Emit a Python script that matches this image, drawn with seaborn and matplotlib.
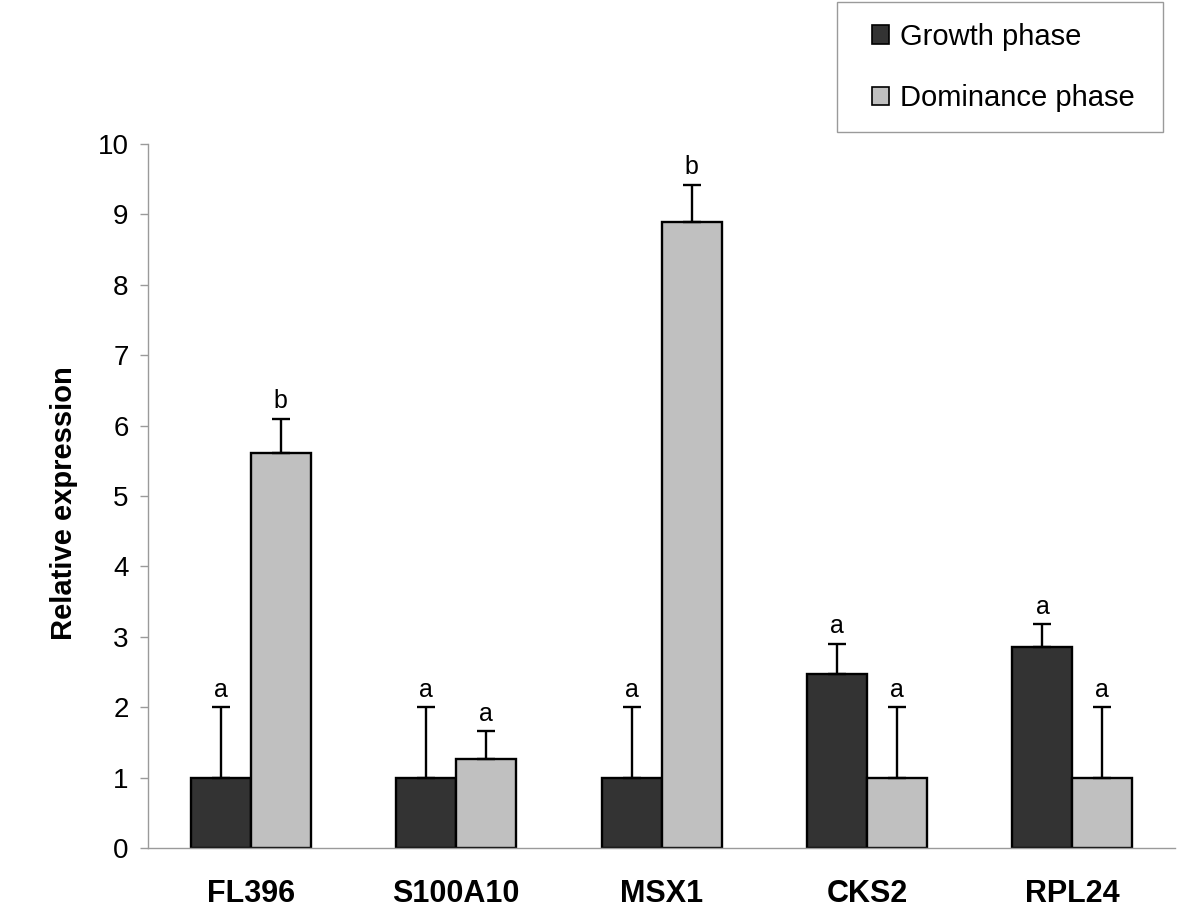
import numpy as np
import pandas as pd
import matplotlib
matplotlib.use('Agg')
import matplotlib.pyplot as plt
from matplotlib.patches import Patch, Rectangle
import seaborn as sns

# data
genes = ['FL396', 'S100A10', 'MSX1', 'CKS2', 'RPL24']
phases = ['Growth phase', 'Dominance phase']
growth = [1.0, 1.0, 1.0, 2.47, 2.86]
growth_err = [1.0, 1.0, 1.0, 0.43, 0.32]
dominance = [5.61, 1.27, 8.89, 1.0, 1.0]
dominance_err = [0.49, 0.39, 0.53, 1.0, 1.0]
growth_letters = ['a', 'a', 'a', 'a', 'a']
dominance_letters = ['b', 'a', 'b', 'a', 'a']
colors = ['#333333', '#c0c0c0']

df = pd.DataFrame({
    'Gene': genes * 2,
    'Phase': [phases[0]] * len(genes) + [phases[1]] * len(genes),
    'Value': growth + dominance,
})

sns.set_style('white')
plt.rcParams['font.family'] = ['Liberation Sans', 'DejaVu Sans']
plt.rcParams['text.color'] = 'black'
plt.rcParams['axes.labelcolor'] = 'black'

fig = plt.figure(figsize=(12, 9.21), dpi=100)
ax = fig.add_axes([0.1233, 0.0793, 0.856, 0.7643])

sns.barplot(data=df, x='Gene', y='Value', hue='Phase', order=genes,
            hue_order=phases, palette=colors, width=0.584,
            edgecolor='black', linewidth=1.7, saturation=1, errorbar=None,
            legend=False, ax=ax)

# one-sided error bars and significance letters
errs = [growth_err, dominance_err]
letters = [growth_letters, dominance_letters]
for cont, err, lab in zip(ax.containers, errs, letters):
    xs = [p.get_x() + p.get_width() / 2 for p in cont.patches]
    hs = [p.get_height() for p in cont.patches]
    ax.errorbar(xs, hs, yerr=[np.zeros(len(err)), err], fmt='none',
                ecolor='black', elinewidth=1.7, capsize=6.5, capthick=1.7,
                zorder=1)
    for x, h, e, t in zip(xs, hs, err, lab):
        ax.annotate(t, (x, h + e), xytext=(0, 4), textcoords='offset points',
                    ha='center', va='bottom', fontsize=18, color='black')

ax.set_xlim(-0.5, 4.5)
ax.set_ylim(0, 10)
ax.set_yticks(range(0, 11))
ax.set_xticks(np.arange(-0.5, 5, 1), minor=True)
ax.tick_params(axis='x', which='major', length=0, pad=22, labelsize=22,
               labelcolor='black')
ax.tick_params(axis='x', which='minor', length=8, color='#9a9a9a', width=1)
ax.tick_params(axis='y', length=6, color='#9a9a9a', width=1, pad=8,
               labelsize=20, left=True, labelcolor='black')
for t in ax.get_xticklabels():
    t.set_fontweight('bold')
ax.set_xlabel('')
ax.set_ylabel('Relative expression', fontsize=21, fontweight='bold', labelpad=14)
ax.yaxis.label.set_y(0.49)

for s in ['top', 'right']:
    ax.spines[s].set_visible(False)
for s in ['left', 'bottom']:
    ax.spines[s].set_color('#9a9a9a')
    ax.spines[s].set_linewidth(1)

# legend box drawn in figure coordinates, legend entries inside
fig.patches.append(Rectangle((837 / 1200, 1 - 132 / 921), 326 / 1200, 130 / 921,
                             transform=fig.transFigure, facecolor='white',
                             edgecolor='#9a9a9a', linewidth=1))
handles = [Patch(facecolor=c, edgecolor='black', linewidth=1.2) for c in colors]
leg = fig.legend(handles, phases, loc='upper left',
                 bbox_to_anchor=(866 / 1200, 1 - 17 / 921), fontsize=21,
                 handlelength=0.6, handleheight=0.6, handletextpad=0.35,
                 labelspacing=1.15, borderpad=0.2, borderaxespad=0,
                 frameon=False, labelcolor='black')

fig.savefig('out.png', dpi=100)
